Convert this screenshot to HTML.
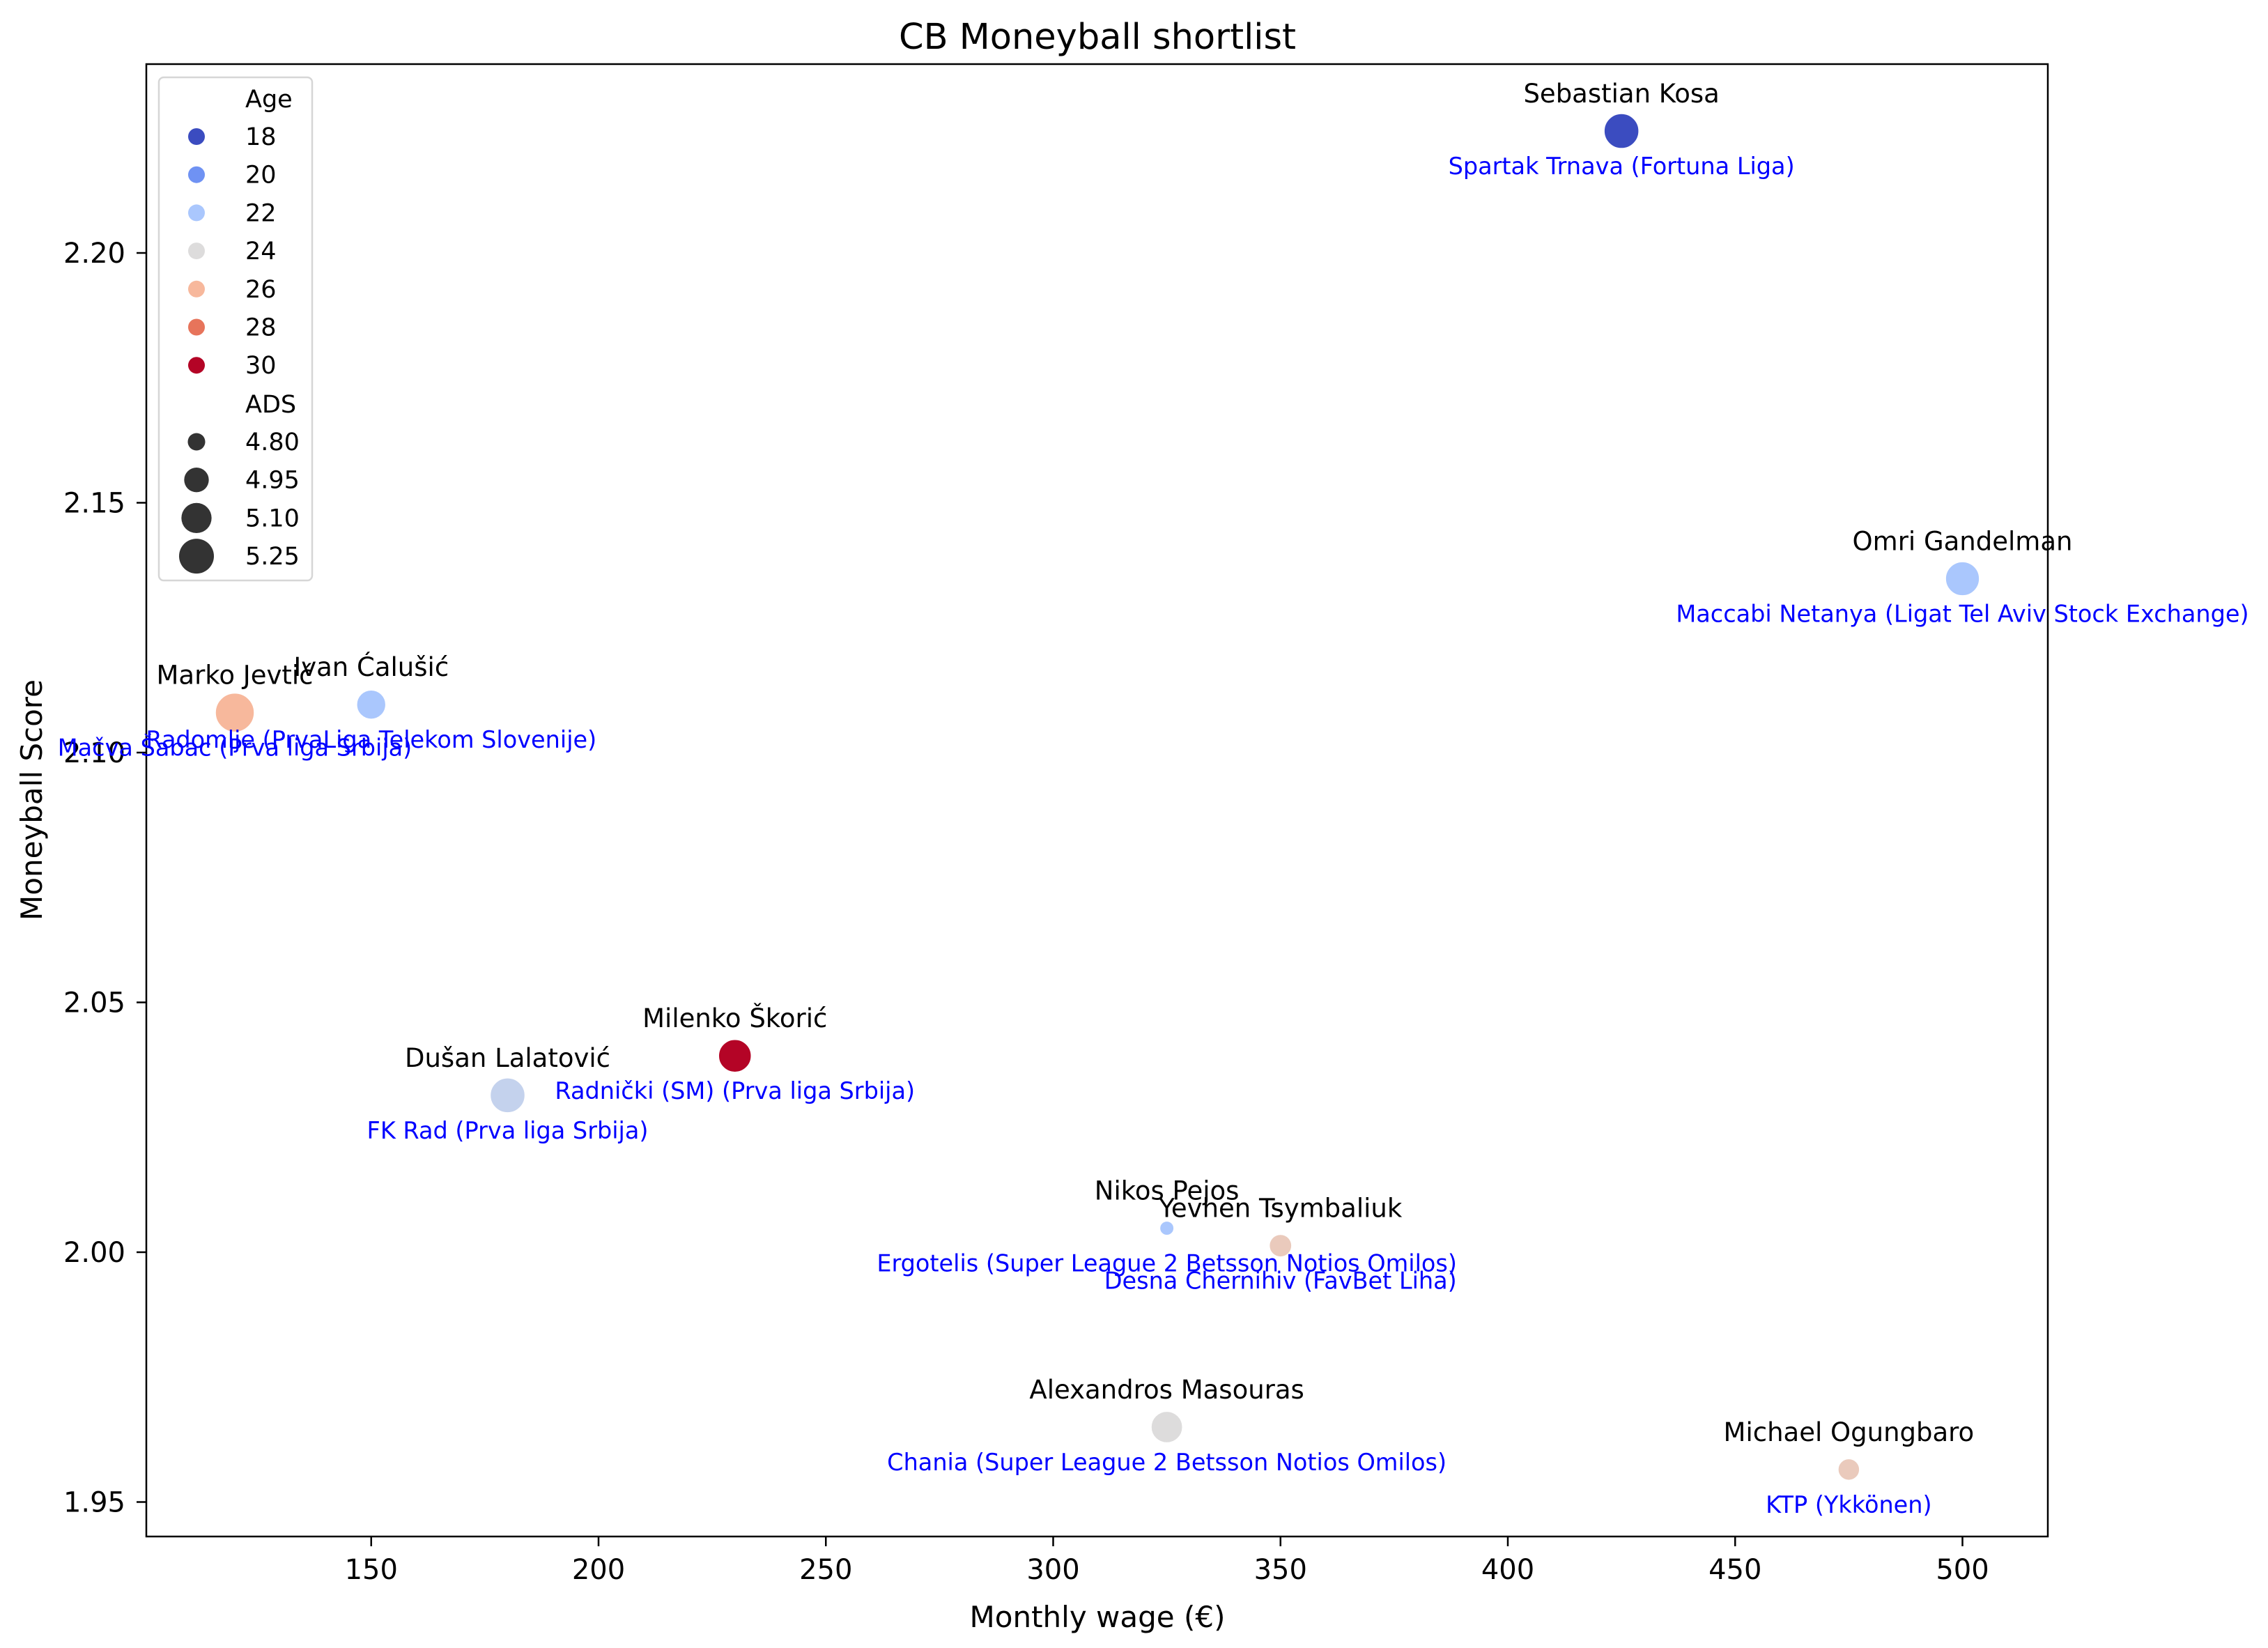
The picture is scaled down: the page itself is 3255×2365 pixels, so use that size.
<!DOCTYPE html>
<html><head><meta charset="utf-8"><style>
html,body{margin:0;padding:0;background:#fff;}
svg{display:block;font-family:"DejaVu Sans","Liberation Sans",sans-serif;}
</style></head><body>
<svg id="chart" width="3255" height="2365" viewBox="0 0 3255 2365" xmlns="http://www.w3.org/2000/svg">
<rect width="3255" height="2365" fill="#fff"/>
<text x="1575" y="70" font-size="51" text-anchor="middle">CB Moneyball shortlist</text>
<g id="plot"></g>
<text x="1575" y="2335" font-size="42" text-anchor="middle">Monthly wage (€)</text>
<text x="0" y="0" font-size="42" text-anchor="middle" transform="translate(60,1148) rotate(-90)">Moneyball Score</text>
</svg>
<script>
const players = ["Sebastian Kosa","Omri Gandelman","Marko Jevtić","Ivan Ćalušić","Milenko Škorić","Dušan Lalatović","Nikos Pejos","Yevhen Tsymbaliuk","Alexandros Masouras","Michael Ogungbaro"];
const clubs = ["Spartak Trnava (Fortuna Liga)","Maccabi Netanya (Ligat Tel Aviv Stock Exchange)","Mačva Šabac (Prva liga Srbija)","Radomlje (PrvaLiga Telekom Slovenije)","Radnički (SM) (Prva liga Srbija)","FK Rad (Prva liga Srbija)","Ergotelis (Super League 2 Betsson Notios Omilos)","Desna Chernihiv (FavBet Liha)","Chania (Super League 2 Betsson Notios Omilos)","KTP (Ykkönen)"];
const wages = [425,500,120,150,230,180,325,350,325,475];
const scores = [2.2244,2.1348,2.1080,2.1096,2.0393,2.0314,2.0048,2.0013,1.9650,1.9565];
const ages = [18,22,26,22,30,23,22,25,24,25];
const ads = [5.25,5.22,5.40,5.07,5.18,5.25,4.75,4.90,5.14,4.88];
const xTicks = [150,200,250,300,350,400,450,500];
const yTicks = [1.95,2.00,2.05,2.10,2.15,2.20];
const ageLegend = [18,20,22,24,26,28,30];
const adsLegend = [4.80,4.95,5.10,5.25];

const NS="http://www.w3.org/2000/svg";
const L=210,R=2939,T=92,B=2205;
function xs(v){return 2164+(v-400)*6.525;}
function ys(v){return 1797-(v-2.0)*7170;}
function diam(a){return Math.sqrt(Math.max(100,625+(a-4.8)*4170));}
const cmapStops=[[18,[59,76,192]],[20,[111,146,243]],[22,[170,199,253]],[24,[221,220,220]],[26,[247,184,156]],[28,[231,116,91]],[30,[180,4,38]]];
function col(a){
  a=Math.max(18,Math.min(30,a));
  for(let i=0;i<cmapStops.length-1;i++){
    const [a0,c0]=cmapStops[i],[a1,c1]=cmapStops[i+1];
    if(a<=a1){const t=(a-a0)/(a1-a0);return "rgb("+c0.map((c,j)=>Math.round(c+(c1[j]-c)*t)).join(",")+")";}
  }
  return "rgb(180,4,38)";
}
function mk(tag,attrs,parent){const e=document.createElementNS(NS,tag);for(const k in attrs)e.setAttribute(k,attrs[k]);parent.appendChild(e);return e;}
const g=document.getElementById("plot");

const frame=mk("rect",{x:L,y:T,width:R-L,height:B-T,fill:"none",stroke:"#000","stroke-width":2.5},g);



xTicks.forEach(v=>{
  const x=xs(v);
  const t=mk("line",{x1:x,x2:x,y1:B,y2:B+14,stroke:"#000","stroke-width":2.5},g);
  
  
  const lb=mk("text",{x:x,y:2266,"font-size":40,"text-anchor":"middle"},g);
  lb.textContent=String(v);
  
  
});
yTicks.forEach(v=>{
  const y=ys(v);
  const t=mk("line",{x1:L-14,x2:L,y1:y,y2:y,stroke:"#000","stroke-width":2.5},g);
  
  
  const lb=mk("text",{x:180,y:y+14,"font-size":40,"text-anchor":"end"},g);
  lb.textContent=v.toFixed(2);
  
  
});

players.forEach((p,i)=>{
  const cx=xs(wages[i]),cy=ys(scores[i]);
  const c=mk("circle",{cx:cx,cy:cy,r:diam(ads[i])/2,fill:col(ages[i]),stroke:"#fff","stroke-width":1.5},g);
  
  
});
players.forEach((p,i)=>{
  const cx=xs(wages[i]),cy=ys(scores[i]);
  const n=mk("text",{x:cx,y:cy-41,"font-size":37,"text-anchor":"middle",fill:"#000"},g);
  n.textContent=p;
  
  
  const cl=mk("text",{x:cx,y:cy+62,"font-size":33.5,"text-anchor":"middle",fill:"#0000ff"},g);
  cl.textContent=clubs[i];
  
  
});

const lg=mk("g",{},g);


mk("rect",{x:228,y:111,width:220,height:722,rx:7,fill:"#fff","fill-opacity":0.8,stroke:"#d6d6d6","stroke-width":2.5},lg);
function ltext(txt,y){const t=mk("text",{x:352,y:y+12,"font-size":35},lg);t.textContent=txt;}
ltext("Age",142);
ageLegend.forEach((a,i)=>{
  const y=196+i*54.7;
  const c=mk("circle",{cx:282,cy:y,r:12,fill:col(a)},lg);
  
  
  ltext(String(a),y);
});
ltext("ADS",580);
adsLegend.forEach((a,i)=>{
  const y=634+i*54.7;
  const c=mk("circle",{cx:282,cy:y,r:diam(a)/2,fill:"#333"},lg);
  
  
  ltext(a.toFixed(2),y);
});
</script>
</body></html>
